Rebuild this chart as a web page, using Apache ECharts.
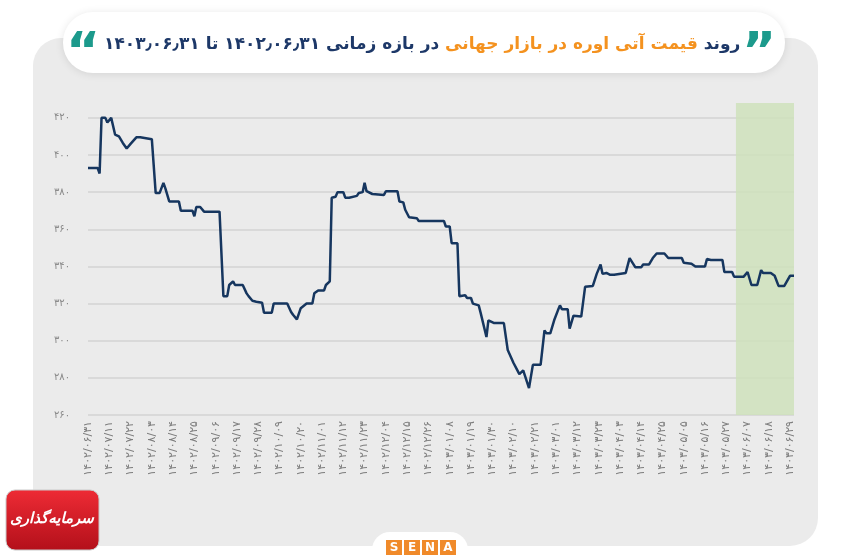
<!DOCTYPE html>
<html>
<head>
<meta charset="utf-8">
<script src="https://cdn.jsdelivr.net/npm/echarts@6/dist/echarts.min.js"></script>
<style>html,body{margin:0;padding:0;background:#fff}#c{width:850px;height:560px}</style>
</head>
<body>
<div id="c"></div>
<script>
// X tick labels (every 11 days from 1402/06/31)
const xTickLabels = ['۱۴۰۲/۰۶/۳۱','۱۴۰۲/۰۷/۱۱','۱۴۰۲/۰۷/۲۲','۱۴۰۲/۰۸/۰۳','۱۴۰۲/۰۸/۱۴','۱۴۰۲/۰۸/۲۵','۱۴۰۲/۰۹/۰۶','۱۴۰۲/۰۹/۱۷','۱۴۰۲/۰۹/۲۸','۱۴۰۲/۱۰/۰۹','۱۴۰۲/۱۰/۲۰','۱۴۰۲/۱۱/۰۱','۱۴۰۲/۱۱/۱۲','۱۴۰۲/۱۱/۲۳','۱۴۰۲/۱۲/۰۴','۱۴۰۲/۱۲/۱۵','۱۴۰۲/۱۲/۲۶','۱۴۰۳/۰۱/۰۸','۱۴۰۳/۰۱/۱۹','۱۴۰۳/۰۱/۳۰','۱۴۰۳/۰۲/۱۰','۱۴۰۳/۰۲/۲۱','۱۴۰۳/۰۳/۰۱','۱۴۰۳/۰۳/۱۲','۱۴۰۳/۰۳/۲۳','۱۴۰۳/۰۴/۰۳','۱۴۰۳/۰۴/۱۴','۱۴۰۳/۰۴/۲۵','۱۴۰۳/۰۵/۰۵','۱۴۰۳/۰۵/۱۶','۱۴۰۳/۰۵/۲۷','۱۴۰۳/۰۶/۰۷','۱۴۰۳/۰۶/۱۸','۱۴۰۳/۰۶/۲۹'];
// Y tick values and labels
const yTickValues = [260,280,300,320,340,360,380,400,420];
const yTickLabels = ['۲۶۰','۲۸۰','۳۰۰','۳۲۰','۳۴۰','۳۶۰','۳۸۰','۴۰۰','۴۲۰'];
// Day index from 1402/06/31 at each vertex of the price line
const days = [0,5,6,7,9,10,12,13,14,16,18,20,21,22,23,25,27,28,33,35,37,39,40,42,47,48,54,55,56,58,60,68,70,72,73,75,76,80,82,83,85,87,90,91,95,96,103,105,106,108,110,113,116,117,119,122,123,125,126,128,129,132,133,135,136,139,140,142,143,144,147,153,154,160,161,163,164,166,170,171,184,185,187,188,191,192,193,195,196,198,199,202,203,204,206,207,208,210,215,217,218,220,222,223,225,226,228,230,234,236,237,239,241,243,244,245,248,249,251,255,257,261,263,265,266,268,270,272,273,278,280,281,283,286,287,290,292,294,298,300,307,308,312,314,319,320,322,328,329,333,334,339,341,343,346,348,349,353,355,357,360,363,365];
// Urea futures price at each vertex
const prices = [393,393,390,420,420,417.5,420,419,411,410,406.5,403.5,403.5,406,406,409.5,409.5,408.5,408.5,379.5,379.5,385,382,375,375,370,370,367,372,372,369.5,369.5,324,324,330,332,330,330,325.5,324,321.5,321,320.5,315,315,320,320,315.5,314,311.5,317.5,320,320,325.5,327,327,330,332,377,377.5,380,380,377,377,378,378,379.5,380,385,380.5,379,378.5,380.5,380.5,375,374.5,370.5,366.5,366,364.5,364.5,361.5,361.5,352.5,352.5,324,324,324.5,323,323,320,319,315,315,302,311,311,309.5,309.5,295,294.5,288,284,282,284,284,274.5,287,287,305.5,304,304,311,316.5,319,317,317,306.5,313.5,313,329,329.5,336,341,336,336.5,335.5,335.5,336.5,336.5,344.5,344.5,339.5,339.5,341,341,344.5,347,347,344.5,344.5,342,341.5,340,340,344,343.5,343.5,337,337,334.5,334.5,337,330,330,338,336.5,336.5,335,329.5,329.5,335,335];
// Highlighted period (Shahrivar 1403)
const highlightStartDay = 335;
const highlightEndDay = 365;

const chart = echarts.init(document.getElementById('c'), null, {renderer: 'canvas'});
const FA = "'DejaVu Sans', sans-serif";
const option = {
  backgroundColor: '#ffffff',
  animation: false,
  title: {
    left: 99,
    top: 31,
    text: '{b|در بازه زمانی ۱۴۰۲٫۰۶٫۳۱ تا ۱۴۰۳٫۰۶٫۳۱ }{o|قیمت آتی اوره در بازار جهانی }{b|روند}',
    textStyle: {
      rich: {
        b: {color: '#1d3868', fontSize: 17, fontWeight: 'bold', fontFamily: FA},
        o: {color: '#f4921f', fontSize: 17, fontWeight: 'bold', fontFamily: FA}
      }
    },
    z: 20
  },
  graphic: {
    elements: [
      {type: 'rect', z: -10, shape: {x: 33, y: 38, width: 785, height: 508, r: 28}, style: {fill: '#ebebeb'}},
      {type: 'rect', z: -9, shape: {x: 63, y: 12, width: 722, height: 61, r: 30}, style: {fill: '#ffffff', shadowBlur: 8, shadowColor: 'rgba(0,0,0,0.10)', shadowOffsetY: 1}},
      {type: 'text', z: 21, x: 66, y: 29, style: {text: '“', fill: '#1c9a8c', font: "bold 52px 'DejaVu Sans'"}},
      {type: 'text', z: 21, x: 742, y: 29, style: {text: '”', fill: '#1c9a8c', font: "bold 52px 'DejaVu Sans'"}},
      {type: 'rect', z: -9, shape: {x: 372, y: 532, width: 96, height: 40, r: 18}, style: {fill: '#ffffff'}},
      {type: 'rect', z: 5, shape: {x: 386, y: 540, width: 16, height: 15}, style: {fill: '#f08a2a'}},
      {type: 'rect', z: 5, shape: {x: 404, y: 540, width: 16, height: 15}, style: {fill: '#f08a2a'}},
      {type: 'rect', z: 5, shape: {x: 422, y: 540, width: 16, height: 15}, style: {fill: '#f08a2a'}},
      {type: 'rect', z: 5, shape: {x: 440, y: 540, width: 16, height: 15}, style: {fill: '#f08a2a'}},
      {type: 'text', z: 6, x: 394, y: 548, style: {text: 'S', fill: '#fff', font: "bold 12px 'DejaVu Sans'", align: 'center', verticalAlign: 'middle'}},
      {type: 'text', z: 6, x: 412, y: 548, style: {text: 'E', fill: '#fff', font: "bold 12px 'DejaVu Sans'", align: 'center', verticalAlign: 'middle'}},
      {type: 'text', z: 6, x: 430, y: 548, style: {text: 'N', fill: '#fff', font: "bold 12px 'DejaVu Sans'", align: 'center', verticalAlign: 'middle'}},
      {type: 'text', z: 6, x: 448, y: 548, style: {text: 'A', fill: '#fff', font: "bold 12px 'DejaVu Sans'", align: 'center', verticalAlign: 'middle'}},
      {type: 'rect', z: 5, shape: {x: 6, y: 490, width: 93, height: 60, r: 9}, style: {fill: new echarts.graphic.LinearGradient(0, 0, 0, 1, [{offset: 0, color: '#ee2b35'}, {offset: 1, color: '#b3101a'}]), stroke: '#c9c9c9', lineWidth: 1}},
      {type: 'text', z: 6, x: 52, y: 519, style: {text: 'سرمایه‌گذاری', fill: '#ffffff', font: "italic bold 15px 'DejaVu Sans'", align: 'center', verticalAlign: 'middle'}}
    ]
  },
  grid: {left: 88, right: 56, top: 103, bottom: 145, outerBoundsMode: 'none'},
  xAxis: {
    type: 'value', min: 0, max: 365, interval: 11,
    axisLine: {show: false}, axisTick: {show: false}, splitLine: {show: false},
    axisLabel: {
      rotate: 90, margin: 6, fontSize: 11, color: '#7d7d7d', fontFamily: FA,
      showMaxLabel: false,
      formatter: function (v) { const i = Math.round(v / 11); return (v % 11 === 0 && xTickLabels[i]) ? xTickLabels[i] : ''; }
    }
  },
  yAxis: {
    type: 'value', min: 260, max: 428, interval: 20,
    axisLine: {show: false}, axisTick: {show: false},
    splitLine: {show: true, showMaxLine: false, lineStyle: {color: '#d3d3d3', width: 1.5}},
    axisLabel: {
      showMaxLabel: false, margin: 18, fontSize: 10, color: '#8a8a8a', fontFamily: FA,
      formatter: function (v) { const i = yTickValues.indexOf(v); return i >= 0 ? yTickLabels[i] : ''; }
    }
  },
  series: [{
    type: 'line',
    data: days.map((d, i) => [d, prices[i]]),
    showSymbol: false, symbol: 'none',
    lineStyle: {color: '#16365f', width: 2.5},
    z: 3,
    markArea: {
      silent: true,
      itemStyle: {color: 'rgba(205,225,185,0.8)'},
      data: [[{xAxis: highlightStartDay}, {xAxis: highlightEndDay}]]
    }
  }]
};
chart.setOption(option);
</script>
</body>
</html>
